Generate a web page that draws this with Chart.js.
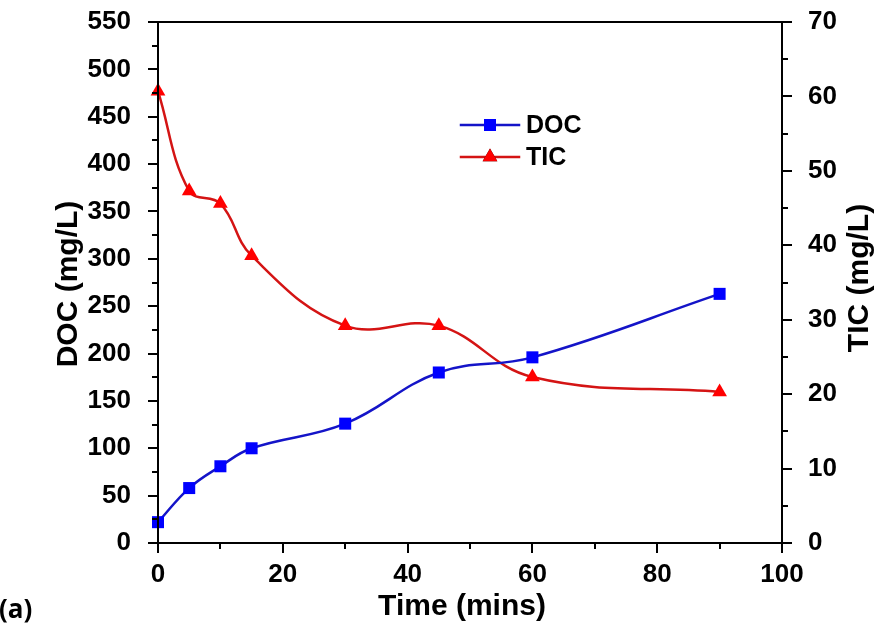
<!DOCTYPE html>
<html>
<head>
<meta charset="utf-8">
<script src="https://cdn.jsdelivr.net/npm/chart.js@4/dist/chart.umd.min.js"></script>
<style>
    html, body { margin: 0; padding: 0; background: #fff; }
    #wrap { width: 875px; height: 637px; position: relative; }
</style>
</head>
<body>
<div id="wrap"><canvas id="chart"></canvas></div>
<script>
// Data
const timeMins = [0, 5, 10, 15, 30, 45, 60, 90];
const docValues = [22, 58, 81, 100, 126, 180, 196, 263];
const ticValues = [60.7, 47.3, 45.6, 38.6, 29.2, 29.2, 22.3, 20.3];

const FONT = '"Liberation Sans", Arial, sans-serif';

// Frame, outward ticks (major + minor), axis titles, legend and panel label
const axesPlugin = {
    id: 'axesPlugin',
    afterDraw(chart) {
        const ctx = chart.ctx;
        const a = chart.chartArea;
        ctx.save();
        ctx.strokeStyle = '#000';
        ctx.lineWidth = 2;
        ctx.lineCap = 'square';
        ctx.beginPath();
        ctx.rect(a.left, a.top, a.right - a.left, a.bottom - a.top);
        ctx.stroke();

        const major = 9, minor = 5;
        function drawTicks(scale, step, side) {
            const vals = [];
            for (let v = scale.min; v <= scale.max + 1e-9; v += step / 2) vals.push(v);
            vals.forEach((v, i) => {
                const len = i % 2 === 0 ? major : minor;
                const p = Math.round(scale.getPixelForValue(v));
                ctx.beginPath();
                if (side === 'left') { ctx.moveTo(a.left, p); ctx.lineTo(a.left - len, p); }
                if (side === 'right') { ctx.moveTo(a.right, p); ctx.lineTo(a.right + len, p); }
                if (side === 'bottom') { ctx.moveTo(p, a.bottom); ctx.lineTo(p, a.bottom + len); }
                ctx.stroke();
            });
        }
        drawTicks(chart.scales.y, 50, 'left');
        drawTicks(chart.scales.y1, 10, 'right');
        drawTicks(chart.scales.x, 20, 'bottom');

        ctx.fillStyle = '#000';
        ctx.font = 'bold 30px ' + FONT;
        ctx.textAlign = 'center';
        ctx.textBaseline = 'alphabetic';
        ctx.fillText('Time (mins)', 462, 615);

        ctx.save();
        ctx.translate(77, 284);
        ctx.rotate(-Math.PI / 2);
        ctx.fillText('DOC (mg/L)', 0, 0);
        ctx.restore();

        ctx.save();
        ctx.translate(868, 278);
        ctx.rotate(-Math.PI / 2);
        ctx.fillText('TIC (mg/L)', 0, 0);
        ctx.restore();

        ctx.font = 'bold 26px "Open Sans", sans-serif';
        ctx.textAlign = 'left';
        ctx.fillText('(a)', -1, 618);

        // Legend
        const items = [
            { ds: chart.data.datasets[0], y: 125 },
            { ds: chart.data.datasets[1], y: 157 }
        ];
        items.forEach(it => {
            ctx.strokeStyle = it.ds.borderColor;
            ctx.lineWidth = 2.5;
            ctx.beginPath();
            ctx.moveTo(461, it.y);
            ctx.lineTo(519, it.y);
            ctx.stroke();
            Chart.helpers.drawPoint(ctx, {
                pointStyle: it.ds.pointStyle,
                radius: it.ds.pointRadius,
                borderWidth: 0
            }, 490, it.y);
            ctx.fillStyle = it.ds.pointBackgroundColor;
            ctx.fill();
            ctx.fillStyle = '#000';
            ctx.font = 'bold 25px ' + FONT;
            ctx.textBaseline = 'middle';
            ctx.fillText(it.ds.label, 526, it.y + 1);
        });
        ctx.restore();
    }
};

const tickFont = { family: FONT, size: 26, weight: 'bold' };

// fix the box sizes so the plot area lands where the original has it
function fixVertical(width) {
    return s => { s.width = width; s.paddingTop = 0; s.paddingBottom = 0; };
}

new Chart(document.getElementById('chart'), {
    type: 'line',
    data: {
        datasets: [
            {
                label: 'DOC',
                data: timeMins.map((t, i) => ({ x: t, y: docValues[i] })),
                yAxisID: 'y',
                borderColor: '#1414c8',
                borderWidth: 2.5,
                pointStyle: 'rect',
                pointRadius: 8.5,
                pointBackgroundColor: '#0000ff',
                pointBorderWidth: 0,
                tension: 0.4,
                clip: false
            },
            {
                label: 'TIC',
                data: timeMins.map((t, i) => ({ x: t, y: ticValues[i] })),
                yAxisID: 'y1',
                borderColor: '#d41414',
                borderWidth: 2.5,
                pointStyle: 'triangle',
                pointRadius: 8.5,
                pointBackgroundColor: '#ff0000',
                pointBorderWidth: 0,
                tension: 0.4,
                clip: false
            }
        ]
    },
    options: {
        responsive: true,
        maintainAspectRatio: false,
        animation: false,
        layout: { padding: { top: 22, bottom: 0, left: 0, right: 0 } },
        plugins: {
            legend: { display: false },
            tooltip: { enabled: false }
        },
        scales: {
            x: {
                type: 'linear',
                min: 0,
                max: 100,
                grid: { display: false },
                border: { display: false },
                ticks: { stepSize: 20, font: tickFont, color: '#000', padding: 8, maxRotation: 0 },
                afterFit: s => { s.height = 94; s.paddingLeft = 0; s.paddingRight = 0; }
            },
            y: {
                position: 'left',
                min: 0,
                max: 550,
                grid: { display: false },
                border: { display: false },
                ticks: { stepSize: 50, font: tickFont, color: '#000', padding: 19 },
                afterFit: fixVertical(158)
            },
            y1: {
                position: 'right',
                min: 0,
                max: 70,
                grid: { display: false },
                border: { display: false },
                ticks: { stepSize: 10, font: tickFont, color: '#000', padding: 18 },
                afterFit: fixVertical(93)
            }
        }
    },
    plugins: [axesPlugin]
});
</script>
</body>
</html>
